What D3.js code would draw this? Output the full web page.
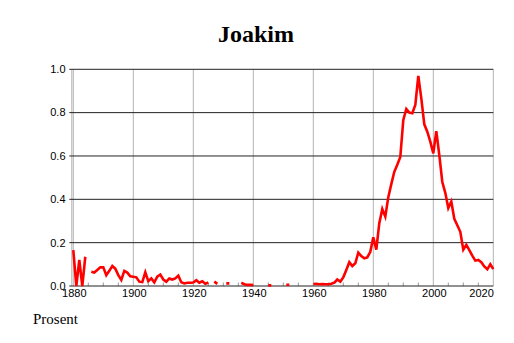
<!DOCTYPE html>
<html><head><meta charset="utf-8">
<script src="https://cdn.jsdelivr.net/npm/d3@7"></script>
<style>
html,body{margin:0;padding:0;background:#fff;}
svg{display:block;}
</style></head>
<body>
<svg id="chart" width="514" height="343"></svg>
<script>
const title = "Joakim";
const yLabel = "Prosent";
const startYear = 1880;
const endYear = 2020;
const yTicks = [0.0, 0.2, 0.4, 0.6, 0.8, 1.0];
const xMajorTicks = [1880, 1900, 1920, 1940, 1960, 1980, 2000, 2020];
const values = [
  0.166, 0.0, 0.12, 0.0, 0.135, null, 0.066, 0.062, 0.074, 0.086,   // 1880-1889
  0.086, 0.05, 0.07, 0.092, 0.08, 0.05, 0.028, 0.07, 0.062, 0.045,  // 1890-1899
  0.043, 0.04, 0.02, 0.018, 0.063, 0.022, 0.035, 0.017, 0.043, 0.053, // 1900-1909
  0.03, 0.02, 0.035, 0.03, 0.035, 0.048, 0.017, 0.012, 0.015, 0.015, // 1910-1919
  0.016, 0.027, 0.015, 0.022, 0.01, 0.016, null, 0.02, 0.01, null,   // 1920-1929
  null, 0.012, 0.012, null, null, null, 0.015, 0.008, 0.005, 0.005,  // 1930-1939
  0.004, null, null, null, null, 0.003, 0.003, null, null, null,     // 1940-1949
  null, 0.006, 0.006, null, null, null, null, null, null, null,      // 1950-1959
  0.009, 0.01, 0.008, 0.009, 0.008, 0.008, 0.01, 0.015, 0.03, 0.02,  // 1960-1969
  0.04, 0.074, 0.11, 0.092, 0.105, 0.154, 0.138, 0.128, 0.132, 0.158, // 1970-1979
  0.225, 0.168, 0.29, 0.355, 0.32, 0.41, 0.47, 0.527, 0.56, 0.595,  // 1980-1989
  0.766, 0.817, 0.80, 0.797, 0.835, 0.97, 0.866, 0.746, 0.712, 0.666, // 1990-1999
  0.612, 0.715, 0.604, 0.48, 0.43, 0.36, 0.39, 0.31, 0.28, 0.25,    // 2000-2009
  0.168, 0.19, 0.165, 0.14, 0.117, 0.12, 0.11, 0.09, 0.077, 0.10,   // 2010-2019
  0.078                                                              // 2020
];

const data = values.map((v, i) => ({year: startYear + i, v: v}));

const svg = d3.select("#chart");
const pLeft = 73.3, pRight = 493.3, pTop = 69.3, pBottom = 286;

const x = d3.scaleLinear().domain([startYear, endYear]).range([pLeft, pRight]);
const y = d3.scaleLinear().domain([0, 1]).range([pBottom, pTop]);

// title
svg.append("text")
  .attr("x", 256).attr("y", 42)
  .attr("text-anchor", "middle")
  .attr("font-family", "'Liberation Serif','Times New Roman',serif")
  .attr("font-weight", "bold")
  .attr("font-size", 24)
  .attr("fill", "#000")
  .text(title);

// vertical gridlines (gray)
const vg = svg.append("g");
vg.selectAll("line").data(xMajorTicks).join("line")
  .attr("x1", d => x(d)).attr("x2", d => x(d))
  .attr("y1", pTop).attr("y2", pBottom)
  .attr("stroke", "#b3b3b3").attr("stroke-width", 1);
vg.append("line")
  .attr("x1", pLeft - 1.5).attr("x2", pLeft - 1.5)
  .attr("y1", pTop).attr("y2", pBottom)
  .attr("stroke", "#b3b3b3").attr("stroke-width", 1);

// minor ticks every 5 years
const minor = d3.range(startYear + 5, endYear, 5).filter(t => !xMajorTicks.includes(t));
svg.append("g").selectAll("line").data(minor).join("line")
  .attr("x1", d => x(d)).attr("x2", d => x(d))
  .attr("y1", pBottom - 3.5).attr("y2", pBottom)
  .attr("stroke", "#999").attr("stroke-width", 1);

// horizontal gridlines (black)
svg.append("g").selectAll("line").data(yTicks).join("line")
  .attr("x1", pLeft - 4).attr("x2", pRight)
  .attr("y1", d => y(d)).attr("y2", d => y(d))
  .attr("stroke", "#222").attr("stroke-width", 1);

// y tick labels
svg.append("g").selectAll("text").data(yTicks).join("text")
  .attr("x", 65.5).attr("y", d => y(d))
  .attr("dy", "0.35em")
  .attr("text-anchor", "end")
  .attr("font-family", "'Liberation Sans',Arial,Helvetica,sans-serif")
  .attr("font-size", 11)
  .attr("fill", "#000")
  .text(d => d3.format(".1f")(d));

// x tick labels
svg.append("g").selectAll("text").data(xMajorTicks).join("text")
  .attr("x", d => d === endYear ? x(d) + 0.5 : x(d) + 1)
  .attr("y", 297)
  .attr("text-anchor", d => d === endYear ? "end" : "middle")
  .attr("font-family", "'Liberation Sans',Arial,Helvetica,sans-serif")
  .attr("font-size", 11)
  .attr("fill", "#000")
  .text(d => d);

// data line
const line = d3.line()
  .defined(d => d.v !== null)
  .x(d => x(d.year))
  .y(d => y(d.v));

svg.append("path")
  .datum(data)
  .attr("d", line)
  .attr("fill", "none")
  .attr("stroke", "#ff0000")
  .attr("stroke-width", 2.6)
  .attr("stroke-linejoin", "miter")
  .attr("stroke-miterlimit", 4);

// y axis label
svg.append("text")
  .attr("x", 33).attr("y", 324)
  .attr("font-family", "'Liberation Serif','Times New Roman',serif")
  .attr("font-size", 15)
  .attr("fill", "#000")
  .text(yLabel);
</script>
</body></html>
